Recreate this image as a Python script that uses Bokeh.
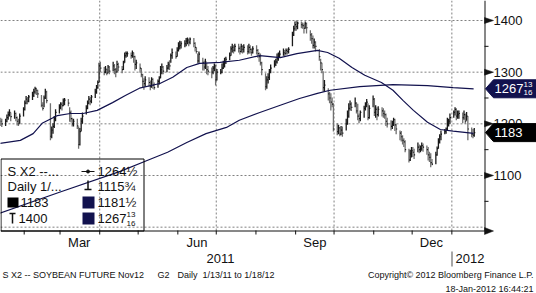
import numpy as np
import pandas as pd
from datetime import datetime
from bokeh.plotting import figure
from bokeh.models import Range1d
from bokeh.core.properties import value
from bokeh.embed import file_html
from bokeh.resources import INLINE

# ---------------- data ----------------
# daily bars, business days 2011-01-13 .. 2012-01-18, one row per week
closes = [
    1205, 1200,
    1205, 1212, 1218, 1222, 1214,
    1220, 1212, 1205, 1200, 1215,
    1228, 1240, 1248, 1244, 1252,
    1255, 1262, 1268, 1265, 1258,
    1236, 1230, 1250, 1262, 1245,
    1176, 1188, 1195, 1210, 1222,
    1232, 1238, 1235, 1244, 1246,
    1240, 1222, 1210, 1200, 1205,
    1196, 1160, 1185, 1205, 1215,
    1230, 1240, 1248, 1244, 1252,
    1262, 1270, 1280, 1312, 1308,
    1300, 1306, 1298, 1310, 1302,
    1312, 1305, 1300, 1315, 1310,
    1305, 1318, 1332, 1336, 1336,
    1332, 1338, 1330, 1315, 1318,
    1308, 1295, 1282, 1278, 1285,
    1280, 1272, 1286, 1275, 1270,
    1282, 1288, 1305, 1310, 1302,
    1308, 1315, 1312, 1332, 1338,
    1330, 1342, 1350, 1352, 1355,
    1355, 1360, 1362, 1358, 1364,
    1356, 1348, 1340, 1322, 1335,
    1318, 1310, 1320, 1305, 1302,
    1300, 1308, 1312, 1285, 1300,
    1300, 1308, 1315, 1320, 1325,
    1332, 1345, 1348, 1342, 1350,
    1346, 1340, 1350, 1344, 1348,
    1340, 1348, 1344, 1338, 1345,
    1342, 1336, 1330, 1318, 1305,
    1272, 1285, 1290, 1300, 1308,
    1315, 1320, 1326, 1330, 1335,
    1338, 1336, 1342, 1340, 1344,
    1372, 1384, 1392, 1388, 1395,
    1392, 1390, 1385, 1394, 1386,
    1372, 1365, 1352, 1358, 1350,
    1330, 1318, 1305, 1270, 1275,
    1258, 1250, 1242, 1238, 1190,
    1185, 1192, 1180, 1188, 1182,
    1200, 1215, 1230, 1238, 1232,
    1240, 1225, 1215, 1210, 1222,
    1230, 1238, 1242, 1212, 1230,
    1248, 1222, 1228, 1218, 1228,
    1225, 1220, 1218, 1205, 1200,
    1195, 1200, 1208, 1198, 1190,
    1182, 1175, 1168, 1165, 1150,
    1130, 1142, 1148, 1145, 1140,
    1155, 1150, 1152, 1158, 1155,
    1150, 1140, 1135, 1125, 1122,
    1140, 1152, 1165, 1175, 1180,
    1185, 1190, 1200, 1205, 1212,
    1222, 1228, 1215, 1218, 1220,
    1212, 1218, 1205, 1215, 1190,
    1180, 1178, 1183,
]
highs = [
    1212, 1210,
    1210, 1218, 1224, 1228, 1222,
    1226, 1222, 1214, 1210, 1220,
    1232, 1245, 1254, 1252, 1256,
    1262, 1268, 1272, 1270, 1266,
    1256, 1242, 1255, 1268, 1264,
    1240, 1195, 1201, 1215, 1228,
    1238, 1242, 1242, 1249, 1250,
    1248, 1232, 1226, 1212, 1210,
    1210, 1195, 1192, 1212, 1222,
    1236, 1245, 1254, 1252, 1256,
    1268, 1275, 1284, 1318, 1320,
    1310, 1312, 1306, 1314, 1312,
    1320, 1316, 1308, 1322, 1318,
    1312, 1322, 1338, 1340, 1340,
    1338, 1342, 1338, 1332, 1324,
    1317, 1308, 1297, 1288, 1292,
    1290, 1284, 1290, 1288, 1280,
    1286, 1292, 1312, 1317, 1312,
    1314, 1320, 1323, 1336, 1346,
    1340, 1348, 1358, 1361, 1360,
    1362, 1366, 1367, 1365, 1367,
    1366, 1358, 1348, 1336, 1340,
    1328, 1322, 1326, 1318, 1312,
    1309, 1312, 1317, 1315, 1306,
    1306, 1317, 1322, 1328, 1330,
    1338, 1350, 1355, 1352, 1355,
    1355, 1350, 1355, 1352, 1354,
    1352, 1355, 1352, 1346, 1350,
    1352, 1345, 1338, 1336, 1320,
    1298, 1292, 1298, 1306, 1315,
    1323, 1326, 1336, 1338, 1342,
    1346, 1343, 1346, 1346, 1348,
    1378, 1390, 1398, 1400, 1398,
    1398, 1396, 1394, 1398, 1396,
    1381, 1376, 1371, 1365, 1360,
    1345, 1326, 1318, 1302, 1285,
    1269, 1262, 1259, 1251, 1240,
    1201, 1198, 1194, 1196, 1195,
    1210, 1226, 1240, 1245, 1242,
    1251, 1242, 1239, 1220, 1226,
    1235, 1242, 1248, 1240, 1236,
    1255, 1250, 1236, 1232, 1234,
    1232, 1230, 1226, 1220, 1212,
    1207, 1206, 1212, 1210, 1200,
    1187, 1186, 1178, 1172, 1168,
    1152, 1150, 1155, 1155, 1152,
    1164, 1160, 1158, 1164, 1162,
    1158, 1155, 1146, 1143, 1132,
    1146, 1156, 1172, 1180, 1187,
    1190, 1193, 1212, 1210, 1220,
    1226, 1232, 1230, 1226, 1226,
    1222, 1226, 1220, 1223, 1215,
    1193, 1190, 1192,
]
lows = [
    1196, 1194,
    1196, 1203, 1208, 1214, 1205,
    1210, 1205, 1197, 1196, 1200,
    1214, 1226, 1238, 1238, 1242,
    1246, 1252, 1258, 1256, 1250,
    1232, 1226, 1232, 1248, 1240,
    1168, 1172, 1181, 1192, 1205,
    1220, 1228, 1226, 1234, 1236,
    1234, 1204, 1203, 1195, 1195,
    1190, 1152, 1158, 1185, 1200,
    1218, 1228, 1238, 1236, 1240,
    1250, 1258, 1268, 1280, 1300,
    1294, 1298, 1294, 1298, 1296,
    1302, 1296, 1290, 1300, 1302,
    1298, 1304, 1318, 1328, 1330,
    1326, 1328, 1318, 1303, 1306,
    1299, 1290, 1270, 1266, 1272,
    1272, 1265, 1270, 1268, 1266,
    1270, 1276, 1288, 1296, 1296,
    1300, 1305, 1304, 1318, 1326,
    1326, 1330, 1340, 1344, 1346,
    1348, 1350, 1354, 1350, 1354,
    1348, 1340, 1336, 1317, 1318,
    1303, 1303, 1306, 1296, 1294,
    1288, 1296, 1302, 1274, 1284,
    1296, 1298, 1306, 1309, 1316,
    1323, 1332, 1338, 1336, 1340,
    1338, 1334, 1338, 1336, 1338,
    1334, 1336, 1336, 1332, 1336,
    1334, 1328, 1320, 1313, 1294,
    1265, 1268, 1278, 1285, 1298,
    1309, 1312, 1317, 1322, 1328,
    1332, 1330, 1334, 1334, 1336,
    1350, 1370, 1380, 1380, 1383,
    1385, 1384, 1375, 1384, 1375,
    1361, 1355, 1346, 1346, 1340,
    1322, 1303, 1298, 1262, 1262,
    1245, 1240, 1226, 1232, 1185,
    1178, 1180, 1176, 1178, 1175,
    1187, 1198, 1212, 1226, 1225,
    1232, 1220, 1207, 1201, 1205,
    1212, 1226, 1232, 1207, 1210,
    1232, 1215, 1212, 1207, 1214,
    1214, 1212, 1210, 1196, 1193,
    1187, 1190, 1196, 1186, 1180,
    1168, 1166, 1160, 1155, 1145,
    1125, 1128, 1135, 1136, 1132,
    1145, 1143, 1145, 1148, 1146,
    1140, 1129, 1126, 1115.75, 1120,
    1122, 1138, 1152, 1162, 1168,
    1180, 1181, 1187, 1195, 1200,
    1212, 1216, 1207, 1210, 1210,
    1201, 1208, 1200, 1206, 1168,
    1174, 1172, 1175,
]

fast_ma_dates = ["2011-01-13", "2011-01-29", "2011-02-08", "2011-02-15", "2011-02-27",
                 "2011-03-09", "2011-03-19", "2011-03-30", "2011-04-11", "2011-04-21",
                 "2011-05-02", "2011-05-18", "2011-05-28", "2011-06-08", "2011-06-18",
                 "2011-07-04", "2011-07-19", "2011-08-04", "2011-08-20", "2011-09-02",
                 "2011-09-18", "2011-09-26", "2011-10-05", "2011-10-15", "2011-10-25",
                 "2011-11-07", "2011-11-16", "2011-11-24", "2011-12-02", "2011-12-13",
                 "2011-12-23", "2012-01-02", "2012-01-18"]
fast_ma = [1162, 1168, 1181, 1201, 1216, 1220, 1220, 1226, 1241, 1255,
           1269, 1278, 1290, 1309, 1317, 1319, 1323, 1332, 1328, 1336,
           1342, 1338, 1327, 1309, 1294, 1280, 1265, 1245, 1226, 1203,
           1189, 1186, 1181.5]

slow_ma_dates = ["2011-01-13", "2011-02-28", "2011-04-17", "2011-05-08", "2011-05-24",
                 "2011-06-08", "2011-06-23", "2011-07-09", "2011-07-19", "2011-08-04",
                 "2011-08-20", "2011-09-04", "2011-09-18", "2011-09-28", "2011-10-21",
                 "2011-11-16", "2011-12-13", "2012-01-02", "2012-01-18"]
slow_ma = [1027, 1067, 1108, 1129, 1145, 1164, 1181, 1193, 1207, 1222,
           1236, 1249, 1259, 1265, 1272, 1276, 1274, 1270, 1267.8125]

y_ticks = [1100, 1200, 1300, 1400]
y_tick_labels = ["1100", "1200", "1300", "1400"]
y_minor = [1050, 1150, 1250, 1350]
y_grid = [1000, 1100, 1200, 1300, 1400]
month_starts = ["2011-02-01", "2011-03-01", "2011-04-01", "2011-05-01", "2011-06-01",
                "2011-07-01", "2011-08-01", "2011-09-01", "2011-10-01", "2011-11-01",
                "2011-12-01", "2012-01-01"]
month_labels = ["Mar", "Jun", "Sep", "Dec"]
month_label_dates = ["2011-03-16", "2011-06-16", "2011-09-16", "2011-12-16"]
grid_dates = ["2011-04-01", "2011-07-01", "2011-10-01", "2012-01-01"]

last_close = 1183
last_ma_fast = "1181½"
last_ma_slow = 1267.8125
legend_avg = "1264½"
legend_low = "1115¾"
legend_high = "1400"

# ---------------- geometry ----------------
EPOCH = datetime(1970, 1, 1)
DAY = 86400000.0
def ms(d):
    return (d - EPOCH).total_seconds() * 1000.0
def dms(s):
    return ms(datetime.strptime(s, "%Y-%m-%d"))

CW, CH = 536, 293           # canvas
FW, FH = 484, 230           # price panel
X0 = ms(datetime(2011, 1, 13, 12))
XPP = 378.0 * DAY / FW      # ms per pixel
Y1 = 1438.7
YPP = 300.0 / 155.0         # price per pixel

def px(xp):
    return X0 + xp * XPP
def py(yp):
    return Y1 - yp * YPP
def vy(v):                   # price -> pixel row
    return (Y1 - v) / YPP

p = figure(width=CW, height=CH, x_axis_type=None, y_axis_type=None,
           x_range=Range1d(px(0), px(CW)), y_range=Range1d(py(CH), py(0)),
           min_border_left=0, min_border_right=0, min_border_top=0, min_border_bottom=0,
           output_backend="svg", toolbar_location=None,
           outline_line_color=None, background_fill_color="white",
           border_fill_color="white")
p.xgrid.visible = False
p.ygrid.visible = False

ink = "#111111"
navy = "#12124e"
F = value("Liberation Sans")

# grid (dotted)
p.segment(x0=[px(0)] * len(y_grid), y0=y_grid, x1=[px(FW)] * len(y_grid), y1=y_grid,
          line_color="#808080", line_dash="2 2", line_width=1)
gx = [dms(s) for s in grid_dates]
p.segment(x0=gx, y0=[py(0)] * len(gx), x1=gx, y1=[py(FH)] * len(gx),
          line_color="#808080", line_dash="2 2", line_width=1)

# bars
dates = pd.bdate_range("2011-01-13", "2012-01-18")
xb = np.array([ms(d.to_pydatetime()) for d in dates]) + 0.5 * DAY
n = min(len(xb), len(closes))
xb = xb[:n]
c = np.array(closes[:n], dtype=float)
h = np.array(highs[:n], dtype=float)
l = np.array(lows[:n], dtype=float)
prev = np.concatenate([[c[0]], c[:-1]])
cols = ["#1a1a1a" if cc >= pp else "#707070" for cc, pp in zip(c, prev)]
p.segment(x0=xb, y0=l, x1=xb, y1=h, line_color=cols, line_width=1.3)
p.segment(x0=xb, y0=c, x1=xb + 0.8 * DAY, y1=c, line_color=ink, line_width=1.2)

# moving averages
p.line([dms(s) for s in fast_ma_dates], fast_ma, line_color=navy, line_width=1.2)
p.line([dms(s) for s in slow_ma_dates], slow_ma, line_color=navy, line_width=1.2)

# axes lines
p.segment(x0=[px(FW + 0.5)], y0=[py(0)], x1=[px(FW + 0.5)], y1=[py(FH + 0.5)], line_color=ink, line_width=1)
p.segment(x0=[px(0)], y0=[py(FH + 0.5)], x1=[px(FW + 0.5)], y1=[py(FH + 0.5)], line_color=ink, line_width=1)
# y major tick arrows + labels
p.patches(xs=[[px(FW), px(FW + 9), px(FW)] for _ in y_ticks],
          ys=[[py(vy(v) - 3), py(vy(v)), py(vy(v) + 3)] for v in y_ticks],
          fill_color=ink, line_color=ink, line_width=0.5)
p.segment(x0=[px(FW)] * len(y_minor), y0=y_minor, x1=[px(FW + 4)] * len(y_minor), y1=y_minor,
          line_color=ink, line_width=1)
p.text(x=[px(493)] * len(y_ticks), y=y_ticks, text=y_tick_labels, text_font=F,
       text_font_size="13px", text_color=ink, text_baseline="middle", text_align="left")
# x axis arrow + month ticks
p.patches(xs=[[px(FW), px(FW + 9), px(FW)]], ys=[[py(FH - 3), py(FH + 0.5), py(FH + 4)]],
          fill_color=ink, line_color=ink, line_width=0.5)
mx = [dms(s) for s in month_starts]
p.segment(x0=mx, y0=[py(FH)] * len(mx), x1=mx, y1=[py(FH + 4)] * len(mx), line_color=ink, line_width=1)
p.text(x=[dms(s) for s in month_label_dates], y=[py(242)] * len(month_labels), text=month_labels,
       text_font=F, text_font_size="13px", text_color=ink, text_baseline="middle", text_align="center")
p.text(x=[px(220)], y=[py(258)], text=["2011"], text_font=F, text_font_size="13px",
       text_color=ink, text_baseline="middle", text_align="center")
p.text(x=[px(455)], y=[py(258)], text=["2012"], text_font=F, text_font_size="13px",
       text_color=ink, text_baseline="middle", text_align="left")
p.segment(x0=[px(451.5)], y0=[py(251)], x1=[px(451.5)], y1=[py(266)], line_color="#888888", line_width=1.5)

# legend box
p.quad(left=[px(0.5)], right=[px(143.5)], top=[py(158.5)], bottom=[py(FH + 0.5)],
       fill_color=None, line_color="#000000", line_width=1)
def t(x, y, s, size="13px", color=ink, align="left"):
    p.text(x=[px(x)], y=[py(y)], text=[s], text_font=F, text_font_size=size,
           text_color=color, text_baseline="middle", text_align=align)

t(7, 171, "S X2 --...")
t(7, 186, "Daily 1/...")
t(97, 171, legend_avg)
t(97, 186, legend_low)
t(20, 202, str(last_close))
t(97, 202, last_ma_fast)
t(18, 218, legend_high)
t(97, 218, "1267")
t(126, 214, "13", size="8px")
t(126, 223, "16", size="8px")
p.segment(x0=[px(81)], y0=[py(171)], x1=[px(94)], y1=[py(171)], line_color=ink)
p.scatter(x=[px(87.5)], y=[py(171)], marker="circle", size=3, fill_color=ink, line_color=ink)
p.segment(x0=[px(87.5)], y0=[py(180)], x1=[px(87.5)], y1=[py(189)], line_color=ink, line_width=1.5)
p.segment(x0=[px(84)], y0=[py(189)], x1=[px(91)], y1=[py(189)], line_color=ink, line_width=1.5)
p.segment(x0=[px(12)], y0=[py(213)], x1=[px(12)], y1=[py(223)], line_color=ink, line_width=1.5)
p.segment(x0=[px(9)], y0=[py(213)], x1=[px(15)], y1=[py(213)], line_color=ink, line_width=1.5)
p.quad(left=[px(7)], right=[px(18)], top=[py(197)], bottom=[py(207)], fill_color="#000000", line_color=None)
p.quad(left=[px(82)], right=[px(94)], top=[py(196)], bottom=[py(208)], fill_color=navy, line_color=None)
p.quad(left=[px(82)], right=[px(94)], top=[py(212)], bottom=[py(224)], fill_color=navy, line_color=None)

# price tags
def tag(val, color, text, frac=None):
    yc = vy(val)
    p.patches(xs=[[px(485), px(493), px(CW), px(CW), px(493)]],
              ys=[[py(yc), py(yc - 9), py(yc - 9), py(yc + 9), py(yc + 9)]],
              fill_color=color, line_color=color)
    p.text(x=[px(494)], y=[py(yc)], text=[text], text_font=F, text_font_size="13px",
           text_color="white", text_baseline="middle", text_align="left")
    if frac:
        p.text(x=[px(523), px(523)], y=[py(yc - 4), py(yc + 4)], text=list(frac), text_font=F,
               text_font_size="8px", text_color="white", text_baseline="middle", text_align="left")

tag(last_ma_slow, navy, "1267", ("13", "16"))
tag(last_close, "#000000", str(last_close))

# footer
def foot(x, y, s, align="left"):
    p.text(x=[px(x)], y=[py(y)], text=[s], text_font=F, text_font_size="9px",
           text_color=ink, text_baseline="middle", text_align=align)
foot(2, 274, "S X2 -- SOYBEAN FUTURE  Nov12")
foot(157, 274, "G2")
foot(177, 274, "Daily")
foot(202, 274, "1/13/11 to 1/18/12")
foot(533, 274, "Copyright© 2012 Bloomberg Finance L.P.", align="right")
foot(533, 288, "18-Jan-2012 16:44:21", align="right")

open("out.html", "w").write(file_html(p, INLINE))
